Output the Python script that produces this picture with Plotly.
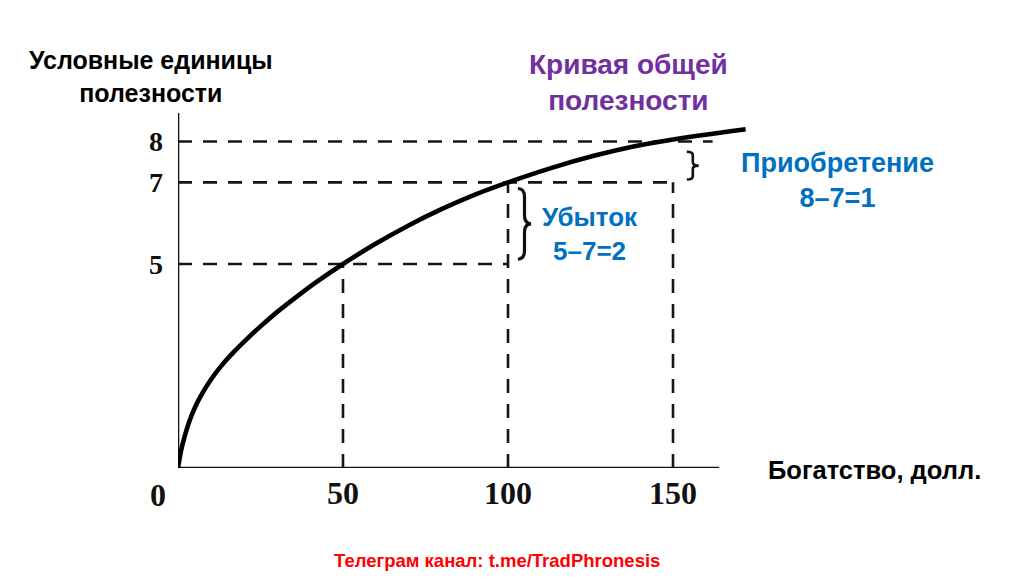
import plotly.graph_objects as go

# ---- data ----
wealth = [0, 1, 2, 3.5, 5, 7, 10, 13, 17, 21, 25, 30, 36, 42, 50, 60, 70, 80, 90, 100,
          113, 126, 138, 150, 172]
utility = [0, 0.45, 0.77, 1.16, 1.46, 1.78, 2.17, 2.49, 2.85, 3.17, 3.47, 3.82, 4.20, 4.56,
           5.0, 5.5, 5.95, 6.35, 6.7, 7.0, 7.35, 7.65, 7.88, 8.05, 8.3]
x_ticks = [50, 100, 150]
y_ticks = [5, 7, 8]
x_tick_labels = ["50", "100", "150"]
y_tick_labels = ["5", "7", "8"]
x_axis_end = 164
y_axis_end = 8.7
line8_end = 162

# ---- layout geometry (pixels; page body adds an 8px offset) ----
OFF = 8
W, H = 1010, 568
L, T = 170, 105
PW = 582
PH = 355
R = W - L - PW
B = H - T - PH
X_MAX = PW / 3.3
Y_MAX = 8.7


def px(xp):
    return (xp - OFF - L) / PW


def py(yp):
    return (T + PH - (yp - OFF)) / PH


fig = go.Figure()

DASH = "14px,11px"
DCOL = "#151515"

# dashed guide lines
guides = [
    ([0, x_ticks[1]], [y_ticks[0], y_ticks[0]]),
    ([0, x_ticks[2]], [y_ticks[1], y_ticks[1]]),
    ([0, line8_end], [y_ticks[2], y_ticks[2]]),
    ([x_ticks[0], x_ticks[0]], [0, y_ticks[0]]),
    ([x_ticks[1], x_ticks[1]], [0, y_ticks[1]]),
    ([x_ticks[2], x_ticks[2]], [0, y_ticks[1]]),
]
for gx, gy in guides:
    fig.add_trace(go.Scatter(x=gx, y=gy, mode="lines",
                             line=dict(color=DCOL, width=2.6, dash=DASH),
                             hoverinfo="skip", showlegend=False))

# axes
fig.add_trace(go.Scatter(x=[0, 0], y=[0, y_axis_end], mode="lines",
                         line=dict(color="#111", width=2.6), showlegend=False, hoverinfo="skip"))
fig.add_trace(go.Scatter(x=[0, x_axis_end], y=[0, 0], mode="lines",
                         line=dict(color="#111", width=2.6), showlegend=False, hoverinfo="skip"))

# utility curve
fig.add_trace(go.Scatter(x=wealth, y=utility, mode="lines",
                         line=dict(color="#000", width=4.6, shape="spline", smoothing=0.8),
                         showlegend=False))


# braces
def brace(x0, yb, yt, w):
    xm = x0 + w * 0.5
    xt = x0 + w
    ymid = (yb + yt) / 2
    d = (yt - yb) * 0.12
    return (f"M {x0},{yt} Q {xm},{yt} {xm},{yt - d} L {xm},{ymid + d} "
            f"Q {xm},{ymid} {xt},{ymid} Q {xm},{ymid} {xm},{ymid - d} "
            f"L {xm},{yb + d} Q {xm},{yb} {x0},{yb}")


fig.add_shape(type="path", path=brace(x_ticks[1] + 3.0, 5.12, 6.85, 4.0), xref="x", yref="y",
              line=dict(color="#111", width=3.2))
fig.add_shape(type="path", path=brace(x_ticks[2] + 4.2, 7.07, 7.75, 3.6), xref="x", yref="y",
              line=dict(color="#111", width=2.6))

SANS = "Liberation Sans, Arial, sans-serif"
SERIF = "Liberation Serif, Times New Roman, serif"

ann = [
    dict(x=px(151), y=py(77), text="<b>Условные единицы<br>полезности</b>",
         font=dict(family=SANS, size=25, color="#000")),
    dict(x=px(628), y=py(83), text="<b>Кривая общей<br>полезности</b>",
         font=dict(family=SANS, size=28, color="#7030A0")),
    dict(x=px(590), y=py(234), text="<b>Убыток<br>5–7=2</b>",
         font=dict(family=SANS, size=26, color="#0070C0")),
    dict(x=px(837), y=py(180), text="<b>Приобретение<br>8–7=1</b>",
         font=dict(family=SANS, size=27, color="#0070C0")),
    dict(x=px(874), y=py(470), text="<b>Богатство, долл.</b>",
         font=dict(family=SANS, size=25.5, color="#000")),
    dict(x=px(497), y=py(560), text="<b>Телеграм канал: t.me/TradPhronesis</b>",
         font=dict(family=SANS, size=18.5, color="#FF0000")),
]
for a in ann:
    fig.add_annotation(xref="paper", yref="paper", showarrow=False,
                       xanchor="center", yanchor="middle", **a)

fig.add_annotation(x=0, y=0, xref="x", yref="y", text="<b>0</b>", showarrow=False,
                   xshift=-20, yshift=-27, font=dict(family=SERIF, size=32, color="#111"))

fig.update_layout(
    width=W, height=H,
    margin=dict(l=L, r=R, t=T, b=B, pad=0),
    paper_bgcolor="white", plot_bgcolor="white",
    xaxis=dict(range=[0, X_MAX], showgrid=False, zeroline=False, showline=False,
               tickvals=x_ticks, ticktext=[f"<b>{t}</b>" for t in x_tick_labels],
               ticks="", ticklabelstandoff=3,
               tickfont=dict(family=SERIF, size=32, color="#111"), fixedrange=True),
    yaxis=dict(range=[0, Y_MAX], showgrid=False, zeroline=False, showline=False,
               tickvals=y_ticks, ticktext=[f"<b>{t}</b>" for t in y_tick_labels],
               ticks="", ticklabelstandoff=14,
               tickfont=dict(family=SERIF, size=28, color="#111"), fixedrange=True),
    showlegend=False,
)

fig.write_html("out.html")
